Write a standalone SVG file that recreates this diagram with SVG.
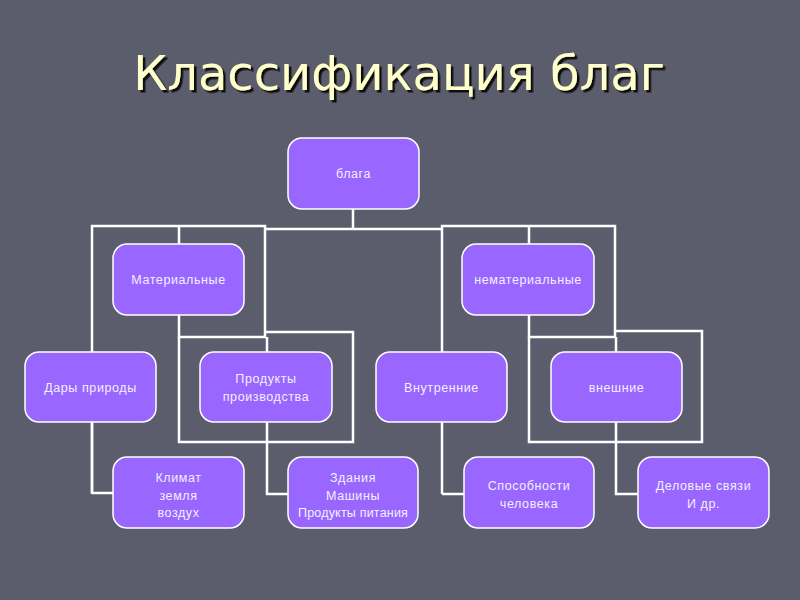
<svg xmlns="http://www.w3.org/2000/svg" width="800" height="600" viewBox="0 0 800 600">
<defs>
<filter id="shadow" x="-5%" y="-20%" width="110%" height="140%"><feDropShadow dx="2.5" dy="2.5" stdDeviation="0.4" flood-color="#111111" flood-opacity="1"/></filter>
</defs>
<style>
.node rect{fill:#9966ff;stroke:#ffffff;stroke-width:1.5}
.node text{fill:#f4f0ff;font-family:"Liberation Sans",Arial,sans-serif;font-size:12.5px;text-anchor:middle;letter-spacing:0.6px}
.conn path{fill:none;stroke:#ffffff;stroke-width:2.5}
.title{font-family:"DejaVu Sans",Verdana,sans-serif;font-size:48px;text-anchor:middle;fill:#ffffcc}
</style>
<rect x="0" y="0" width="800" height="600" fill="#5b5d6d"/>
<text class="title" x="399" y="90" filter="url(#shadow)">Классификация благ</text>
<g class="conn">
<path d="M353 209V229M265 229H441"/>
<path d="M92 493V226H265V337H179V226M179 315V337"/>
<path d="M92 493H113"/>
<path d="M265 332H353V442H179V337M267 337V352M267 422V494H288"/>
<path d="M92 422V494"/>
<path d="M442 494V226H615V337H529V226M529 315V337"/>
<path d="M442 494H464"/>
<path d="M615 331H702V442H529V337M616 337V352M616 422V494H638"/>
</g>
<g id="n-blaga" class="node"><rect x="288" y="138" width="131" height="71" rx="14"/><text x="353.5" y="178">блага</text></g>
<g id="n-mat" class="node"><rect x="113" y="244" width="131" height="71" rx="14"/><text x="178.5" y="284">Материальные</text></g>
<g id="n-nemat" class="node"><rect x="462" y="244" width="132" height="71" rx="14"/><text x="528" y="284">нематериальные</text></g>
<g id="n-dary" class="node"><rect x="25" y="352" width="131" height="70" rx="14"/><text x="90.5" y="392">Дары природы</text></g>
<g id="n-prod" class="node"><rect x="200" y="352" width="132" height="70" rx="14"/><text x="266" y="383">Продукты</text><text x="266" y="401">производства</text></g>
<g id="n-vnutr" class="node"><rect x="376" y="352" width="131" height="70" rx="14"/><text x="441.5" y="392">Внутренние</text></g>
<g id="n-vnesh" class="node"><rect x="551" y="352" width="131" height="70" rx="14"/><text x="616.5" y="392">внешние</text></g>
<g id="n-klimat" class="node"><rect x="113" y="457" width="131" height="71" rx="14"/><text x="178.5" y="482">Климат</text><text x="178.5" y="499.5">земля</text><text x="178.5" y="517">воздух</text></g>
<g id="n-zdan" class="node"><rect x="288" y="457" width="130" height="71" rx="14"/><text x="353" y="482">Здания</text><text x="353" y="499.5">Машины</text><text x="353" y="517" style="letter-spacing:0.2px">Продукты питания</text></g>
<g id="n-sposob" class="node"><rect x="464" y="457" width="130" height="71" rx="14"/><text x="529" y="490">Способности</text><text x="529" y="507.5">человека</text></g>
<g id="n-delov" class="node"><rect x="638" y="457" width="131" height="71" rx="14"/><text x="703.5" y="490">Деловые связи</text><text x="703.5" y="507.5">И др.</text></g>
</svg>
